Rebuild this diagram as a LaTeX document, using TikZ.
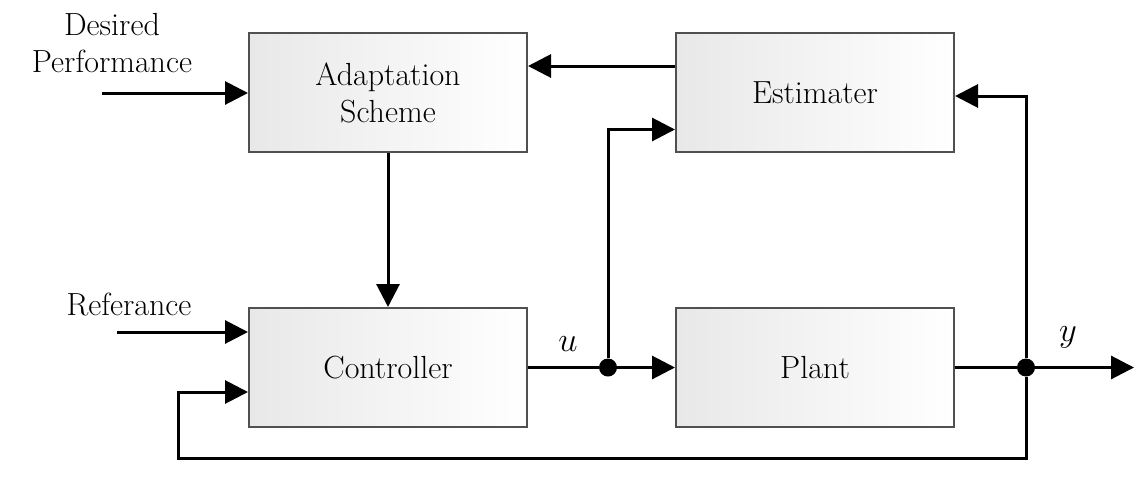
\documentclass[tikz,border=0pt]{standalone}
\usepackage{tikz}
\definecolor{boxedge}{RGB}{80, 80, 80}
\definecolor{boxshade}{RGB}{232, 232, 232}
\usetikzlibrary{
  arrows.meta,
  positioning,
}
\tikzset{
  >={Triangle[length=11.5pt,width=11.5pt]},
  blockbox/.style={draw=boxedge,line width=1pt,rectangle,minimum width=139pt,minimum height=59.5pt,
    left color=boxshade,right color=white,align=center,font=\fontsize{16}{18.5}\selectfont},
  signal/.style={line width=1.5pt},
  junction/.style={circle,fill,inner sep=0pt,minimum size=9pt},
  sigtext/.style={align=center,font=\fontsize{16}{18.5}\selectfont},
}

\begin{document}
\begin{tikzpicture}[x=0.5pt,y=-0.5pt,node distance=77pt and 73.5pt]
        \useasboundingbox (0,0) rectangle (1143,487);

        \node[blockbox]    (ctrl)  at (388,367.5)    {Controller};
        \node[blockbox]    (plant) [right=of ctrl]   {Plant};
        \node[blockbox]    (adapt) [above=of ctrl]   {Adaptation\\Scheme};
        \node[blockbox]    (estim) [above=of plant]  {Estimater};

        \node[junction] (udot) at (608,367.5) {};
        \node[junction] (ydot) at (1026,367.5) {};
        \coordinate (desin) at (102,93);
        \coordinate (refin) at (117,332);
        \coordinate (yout) at (1134,367.5);
        \coordinate (fb) at (178,458);

        \node[sigtext] (desl) at (112,43)  {Desired\\Performance};
        \node[sigtext] (refl) at (129,305) {Referance};
        \node[sigtext] (ul)   at (568,344) {$u$};
        \node[sigtext] (yl)   at (1068,337) {$y$};

        \draw[signal,->] (desin) -- (desin -| adapt.west);
        \draw[signal,->] ([yshift=13.25pt]estim.west) -- ([yshift=13.25pt]estim.west -| adapt.east);
        \draw[signal,->] (adapt) -- (ctrl);
        \draw[signal,->] (refin) -- (refin -| ctrl.west);
        \draw[signal] (ctrl) -- (udot);
        \draw[signal,->] (udot) -- (plant);
        \draw[signal,->] (udot) |- ([yshift=-18.5pt]estim.west);
        \draw[signal] (plant) -- (ydot);
        \draw[signal,->] (ydot) -- (yout);
        \draw[signal,->] (ydot) |- ([yshift=-1.75pt]estim.east);
        \draw[signal,->] (ydot) |- (fb) |- ([yshift=-12.25pt]ctrl.west);
    \end{tikzpicture}
\end{document}
